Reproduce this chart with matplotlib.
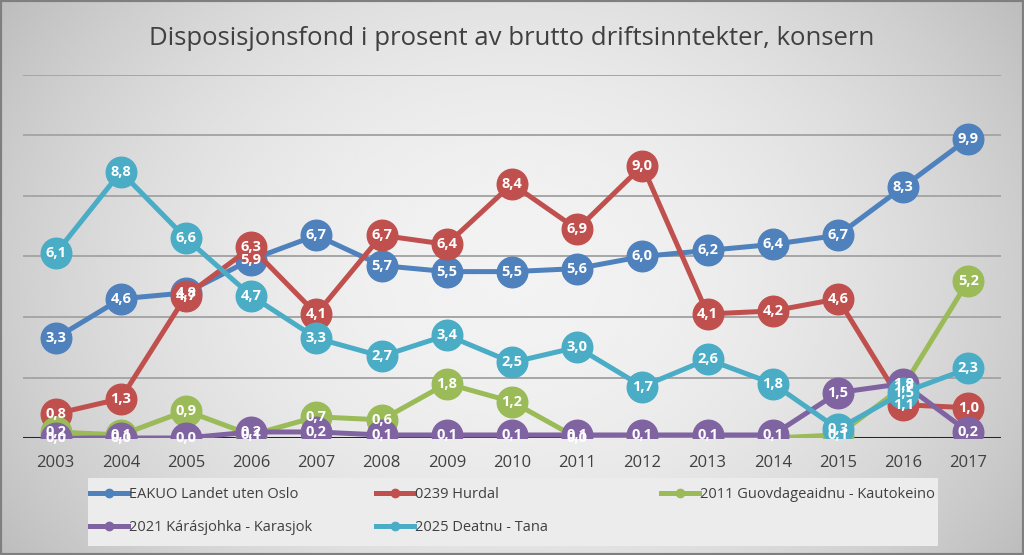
import numpy as np
import matplotlib.pyplot as plt

# Data
years = ['2003', '2004', '2005', '2006', '2007', '2008', '2009', '2010',
         '2011', '2012', '2013', '2014', '2015', '2016', '2017']
eakuo = [3.3, 4.6, 4.8, 5.9, 6.7, 5.7, 5.5, 5.5, 5.6, 6.0, 6.2, 6.4, 6.7, 8.3, 9.9]
hurdal = [0.8, 1.3, 4.7, 6.3, 4.1, 6.7, 6.4, 8.4, 6.9, 9.0, 4.1, 4.2, 4.6, 1.1, 1.0]
kautokeino = [0.2, 0.1, 0.9, 0.1, 0.7, 0.6, 1.8, 1.2, 0.0, 0.0, 0.0, 0.0, 0.1, 1.7, 5.2]
karasjok = [0.0, 0.0, 0.0, 0.2, 0.2, 0.1, 0.1, 0.1, 0.1, 0.1, 0.1, 0.1, 1.5, 1.8, 0.2]
tana = [6.1, 8.8, 6.6, 4.7, 3.3, 2.7, 3.4, 2.5, 3.0, 1.7, 2.6, 1.8, 0.3, 1.5, 2.3]
# labels not shown in the original (hidden behind Karasjok)
kautokeino_no_label = ['2012', '2013', '2014']

series = [
    ('EAKUO Landet uten Oslo', eakuo, '#4F81BD', []),
    ('0239 Hurdal', hurdal, '#C0504D', []),
    ('2011 Guovdageaidnu - Kautokeino', kautokeino, '#9BBB59', kautokeino_no_label),
    ('2021 Kárásjohka - Karasjok', karasjok, '#8064A2', []),
    ('2025 Deatnu - Tana', tana, '#4BACC6', []),
]

plt.rcParams['font.family'] = ['Open Sans', 'DejaVu Sans']

W, H = 1024, 555
fig = plt.figure(figsize=(W / 100, H / 100), dpi=100)

# gradient background
bg = fig.add_axes([0, 0, 1, 1], zorder=-10)
yy, xx = np.mgrid[-1:1:300j, -1:1:600j]
r = np.sqrt((xx * 0.9) ** 2 + (yy * 0.6) ** 2)
shade = 0.95 - 0.18 * np.clip(r, 0, 1.2) ** 2
bg.imshow(shade, cmap='gray', vmin=0, vmax=1, aspect='auto',
          extent=[0, 1, 0, 1], interpolation='bicubic')
bg.add_patch(plt.Rectangle((0, 0), 1, 1, fill=False, edgecolor='#7f7f7f',
                           lw=3, transform=bg.transAxes))
# legend box
bg.add_patch(plt.Rectangle((88 / W, 1 - 546 / H), 850 / W, 68 / H,
                           facecolor='#ececec', edgecolor='none',
                           transform=bg.transAxes))
bg.set_xlim(0, 1)
bg.set_ylim(0, 1)
bg.axis('off')

ax = fig.add_axes([0.0225, 0.2108, 0.955, 0.6541])
ax.patch.set_alpha(0)
x = np.arange(len(years))

for yv in range(2, 13, 2):
    ax.axhline(yv, color='#a6a6a6', lw=1.4, zorder=0)
ax.axhline(0, color='#262626', lw=2.2, zorder=0.5)

for i, (name, vals, col, skip) in enumerate(series):
    ax.plot(x, vals, color=col, lw=3.6, marker='o', markersize=22,
            markeredgecolor=col, zorder=2 + i, label=name)
    for xi, yr, v in zip(x, years, vals):
        if yr in skip:
            continue
        ax.text(xi, v, f'{v:.1f}'.replace('.', ','), ha='center', va='center',
                color='white', fontsize=10.5, fontweight='bold', zorder=20)

ax.set_xlim(-0.5, len(years) - 0.5)
ax.set_ylim(0, 12)
ax.set_xticks(x)
ax.set_xticklabels(years, fontsize=12, color='#404040')
ax.tick_params(axis='x', length=0, pad=12)
ax.set_yticks([])
for s in ax.spines.values():
    s.set_visible(False)

fig.text(0.5, 0.93, 'Disposisjonsfond i prosent av brutto driftsinntekter, konsern',
         ha='center', va='center', fontsize=18.5, color='#404040')

# legend: three columns placed like the original (row-wise order)
columns = [(90, [0, 3]), (376, [1, 4]), (661, [2])]
for xpix, idx in columns:
    hs = [plt.Line2D([], [], color=series[k][2], lw=3.6, marker='o', markersize=6)
          for k in idx]
    leg = fig.legend(hs, [series[k][0] for k in idx], loc='upper left',
                     bbox_to_anchor=(xpix / W, 1 - 487 / H), frameon=False,
                     fontsize=10.5, handlelength=2.6, handletextpad=0.1,
                     labelspacing=1.25, borderpad=0, borderaxespad=0)
    for t in leg.get_texts():
        t.set_color('#404040')

fig.savefig('out.png', dpi=100)
